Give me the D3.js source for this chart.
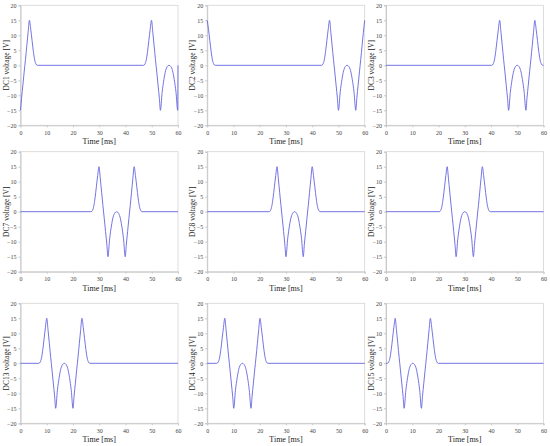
<!DOCTYPE html>
<html>
<head>
<meta charset="utf-8">
<script src="https://cdn.jsdelivr.net/npm/d3@7"></script>
<style>
  body { margin: 0; background: #fff; }
  svg { display: block; }
  .tick text { font-family: "Liberation Serif", serif; font-size: 6px; fill: #444; }
  .axis path, .axis line { stroke: #c8c8c8; }
  .lab { font-family: "Liberation Serif", serif; fill: #222; }
</style>
</head>
<body>
<div id="chart"></div>
<script>
// pulse shape: [ms after first peak, V]
const pulseT = [-3.0, -2.5, -2.0, -1.5, -1.0, -0.5, 0, 0.5, 1.0, 1.5, 2.0, 2.5, 3.0, 3.4,
  4.06, 4.72, 5.38, 6.04, 6.7, 7.36, 8.02, 8.68, 9.34, 10.0,
  10.4, 10.9, 11.4, 11.9, 12.4, 12.9, 13.4, 13.9, 14.4, 14.9, 15.4, 15.9, 16.4];
const pulseV = [0, 0.4, 1.8, 4.6, 8.3, 12.0, 15, 11.0, 6.5, 2.0, -2.2, -6.6, -11.0, -15,
  -9.0, -4.8, -1.8, -0.4, 0, -0.4, -1.8, -4.8, -9.0, -15,
  -11.0, -6.6, -2.2, 2.0, 6.5, 11.0, 15, 12.0, 8.3, 4.6, 1.8, 0.4, 0];

// electrode names and the times of the first peak of each pulse [ms]
const electrodes = ["DC1", "DC2", "DC3", "DC7", "DC8", "DC9", "DC13", "DC14", "DC15"];
const pulseStarts = [[-10.0, 49.9], [-13.4, 46.6], [43.3], [29.9], [26.6], [23.3], [10.0], [6.7], [3.5]];

const xTicks = [0, 10, 20, 30, 40, 50, 60];
const yTicks = [-20, -15, -10, -5, 0, 5, 10, 15, 20];

const W = 550, H = 446;
const colX = [20.5, 207.2, 386];
const rowY = [5.3, 151.7, 303.3];
const pw = 157.5, ph = 120;

const svg = d3.select("#chart").append("svg").attr("width", W).attr("height", H);

electrodes.forEach((name, i) => {
  const g = svg.append("g")
    .attr("transform", `translate(${colX[i % 3]},${rowY[Math.floor(i / 3)]})`);

  const x = d3.scaleLinear().domain([0, 60]).range([0, pw]);
  const y = d3.scaleLinear().domain([-20, 20]).range([ph, 0]);

  // frame
  g.append("rect").attr("width", pw).attr("height", ph)
    .attr("fill", "none").attr("stroke", "#d4d4d4").attr("stroke-width", 0.8);

  g.append("g").attr("class", "axis")
    .attr("transform", `translate(0,${ph})`)
    .call(d3.axisBottom(x).tickValues(xTicks).tickSize(2).tickPadding(3));
  g.append("g").attr("class", "axis")
    .call(d3.axisLeft(y).tickValues(yTicks).tickSize(2).tickPadding(2)
      .tickFormat(d => d < 0 ? "\u2212" + Math.abs(d) : d));

  // build the points for this panel from the pulse shape
  const pts = [];
  pulseStarts[i].forEach(p => {
    pulseT.forEach((t, k) => {
      const tt = p + t;
      if (tt >= 0 && tt <= 60) pts.push([tt, pulseV[k]]);
    });
  });
  pts.sort((a, b) => a[0] - b[0]);
  if (pts[0][0] > 0) pts.unshift([0, 0]);
  if (pts[pts.length - 1][0] < 60) pts.push([60, 0]);

  g.append("path")
    .datum(pts)
    .attr("fill", "none")
    .attr("stroke", "#6464e0")
    .attr("stroke-width", 0.9)
    .attr("d", d3.line().x(d => x(d[0])).y(d => y(d[1])).curve(d3.curveMonotoneX));

  g.append("text").attr("class", "lab")
    .attr("transform", `translate(-11.8,${ph / 2}) rotate(-90)`)
    .attr("text-anchor", "middle").attr("font-size", 7.5)
    .text(name + " voltage [V]");

  g.append("text").attr("class", "lab")
    .attr("x", pw / 2).attr("y", ph + 19)
    .attr("text-anchor", "middle").attr("font-size", 8)
    .text("Time [ms]");
});
</script>
</body>
</html>
